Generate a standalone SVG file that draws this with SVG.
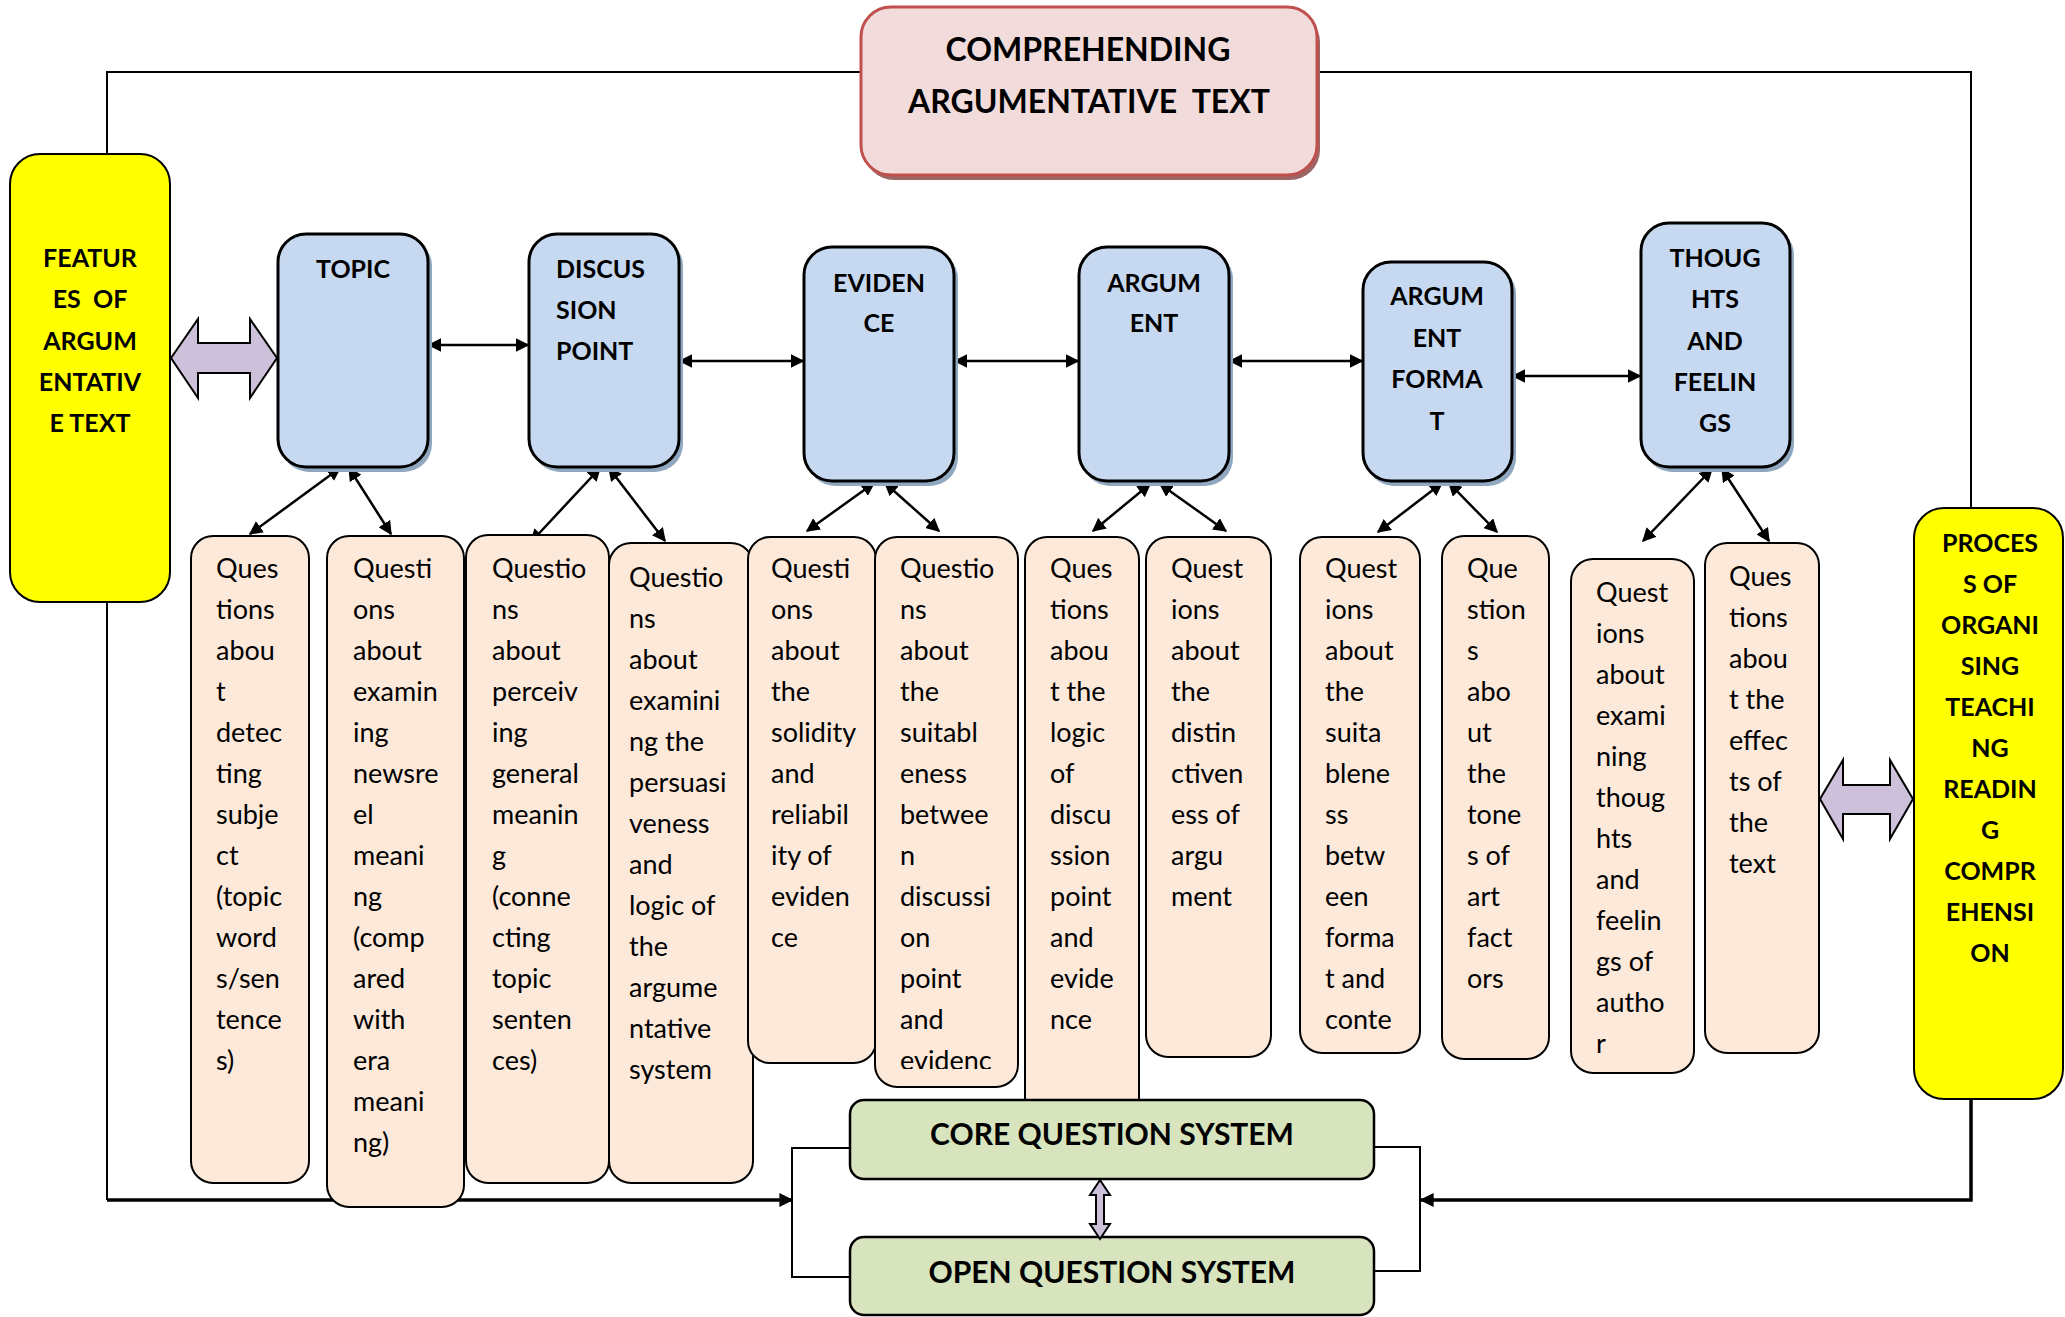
<svg xmlns="http://www.w3.org/2000/svg" width="2065" height="1317" viewBox="0 0 2065 1317">
  <defs>
    <style>
      text { font-family: Lato, "Liberation Sans", sans-serif; fill: #000; }
      .hd { font-weight: 700; font-size: 25px; }
      .ttl { font-weight: 700; font-size: 32px; }
      .sys { font-weight: 700; font-size: 30px; }
      .q { font-size: 27px; }
      .frame { fill: none; stroke: #000; stroke-width: 2; }
      .flow { fill: none; stroke: #000; stroke-width: 3.5; }
      .link { fill: none; stroke: #000; stroke-width: 2.5; }
      .blue { fill: #C6D9F1; stroke: #000; stroke-width: 3; }
      .blue-sh { fill: #8FA8BF; }
      .peach { fill: #FDE9D9; stroke: #000; stroke-width: 2; }
      .yellow { fill: #FFFF00; stroke: #000; stroke-width: 2; }
      .green { fill: #D7E4BD; stroke: #000; stroke-width: 2.5; }
      .block { fill: #CCC0DA; stroke: #000; stroke-width: 2; }
    </style>
    <marker id="ah" viewBox="0 0 10 10" refX="9" refY="5" markerWidth="5.5" markerHeight="5.5" orient="auto-start-reverse" markerUnits="strokeWidth">
      <path d="M0,0 L10,5 L0,10 z" fill="#000"/>
    </marker>
    <marker id="ahs" viewBox="0 0 10 10" refX="9" refY="5" markerWidth="4" markerHeight="4" orient="auto-start-reverse" markerUnits="strokeWidth">
      <path d="M0,0 L10,5 L0,10 z" fill="#000"/>
    </marker>
    <clipPath id="clip-q6">
      <rect x="875" y="530" width="145" height="539"/>
    </clipPath>
  </defs>

  <!-- connectors -->
  <g id="connectors">
    <!-- outer frame -->
    <polyline class="frame" points="107,154 107,72 861,72"/>
    <polyline class="frame" points="1317,72 1971,72 1971,508"/>
    <polyline class="frame" points="107,602 107,1200"/>
    <line class="flow" x1="107" y1="1200" x2="792" y2="1200" marker-end="url(#ahs)"/>
    <polyline class="frame" points="851,1148 792,1148 792,1277 851,1277"/>
    <polyline class="frame" points="1374,1147 1420,1147 1420,1271 1374,1271"/>
    <polyline class="flow" points="1971,1099 1971,1200 1421,1200" marker-end="url(#ahs)"/>

    <!-- links between topic boxes -->
    <line class="link" x1="429" y1="345" x2="528" y2="345" marker-start="url(#ah)" marker-end="url(#ah)"/>
    <line class="link" x1="680" y1="361" x2="803" y2="361" marker-start="url(#ah)" marker-end="url(#ah)"/>
    <line class="link" x1="955" y1="361" x2="1078" y2="361" marker-start="url(#ah)" marker-end="url(#ah)"/>
    <line class="link" x1="1230" y1="361" x2="1362" y2="361" marker-start="url(#ah)" marker-end="url(#ah)"/>
    <line class="link" x1="1513" y1="376" x2="1640" y2="376" marker-start="url(#ah)" marker-end="url(#ah)"/>

    <!-- links from topic boxes to question boxes -->
    <line class="link" x1="340" y1="468" x2="250" y2="534" marker-start="url(#ah)" marker-end="url(#ah)"/>
    <line class="link" x1="349" y1="468" x2="391" y2="534" marker-start="url(#ah)" marker-end="url(#ah)"/>
    <line class="link" x1="600" y1="468" x2="531" y2="542" marker-start="url(#ah)" marker-end="url(#ah)"/>
    <line class="link" x1="609" y1="468" x2="665" y2="541" marker-start="url(#ah)" marker-end="url(#ah)"/>
    <line class="link" x1="874" y1="483" x2="807" y2="531" marker-start="url(#ah)" marker-end="url(#ah)"/>
    <line class="link" x1="885" y1="483" x2="939" y2="531" marker-start="url(#ah)" marker-end="url(#ah)"/>
    <line class="link" x1="1150" y1="484" x2="1093" y2="531" marker-start="url(#ah)" marker-end="url(#ah)"/>
    <line class="link" x1="1160" y1="484" x2="1226" y2="531" marker-start="url(#ah)" marker-end="url(#ah)"/>
    <line class="link" x1="1442" y1="483" x2="1378" y2="532" marker-start="url(#ah)" marker-end="url(#ah)"/>
    <line class="link" x1="1449" y1="483" x2="1497" y2="532" marker-start="url(#ah)" marker-end="url(#ah)"/>
    <line class="link" x1="1712" y1="469" x2="1643" y2="541" marker-start="url(#ah)" marker-end="url(#ah)"/>
    <line class="link" x1="1722" y1="469" x2="1769" y2="541" marker-start="url(#ah)" marker-end="url(#ah)"/>

    <!-- wide two-way arrows -->
    <path class="block" d="M171,358 L198,319 L198,343 L250,343 L250,319 L277,358 L250,398 L250,373 L198,373 L198,398 Z"/>
    <path class="block" d="M1820,799 L1843,760 L1843,785 L1890,785 L1890,760 L1913,799 L1890,839 L1890,814 L1843,814 L1843,839 Z"/>
  </g>

  <!-- title -->
  <g id="title">
    <rect x="864" y="12" width="456" height="168" rx="30" fill="#9B6664"/>
    <rect x="861" y="7" width="456" height="168" rx="30" fill="#F2DCDB" stroke="#C0504D" stroke-width="3"/>
    <text class="ttl" x="1088" y="61" text-anchor="middle">COMPREHENDING</text>
    <text class="ttl" x="1089" y="113" text-anchor="middle" xml:space="preserve">ARGUMENTATIVE  TEXT</text>
  </g>

  <!-- side panels -->
  <g id="features">
    <rect class="yellow" x="10" y="154" width="160" height="448" rx="30"/>
    <text class="hd" text-anchor="middle" xml:space="preserve"><tspan x="90" y="267">FEATUR</tspan><tspan x="90" y="308">ES  OF</tspan><tspan x="90" y="350">ARGUM</tspan><tspan x="90" y="391">ENTATIV</tspan><tspan x="90" y="432">E TEXT</tspan></text>
  </g>
  <g id="process">
    <rect class="yellow" x="1914" y="508" width="149" height="591" rx="30"/>
    <text class="hd" text-anchor="middle"><tspan x="1990" y="552">PROCES</tspan><tspan x="1990" y="593">S OF</tspan><tspan x="1990" y="634">ORGANI</tspan><tspan x="1990" y="675">SING</tspan><tspan x="1990" y="716">TEACHI</tspan><tspan x="1990" y="757">NG</tspan><tspan x="1990" y="798">READIN</tspan><tspan x="1990" y="839">G</tspan><tspan x="1990" y="880">COMPR</tspan><tspan x="1990" y="921">EHENSI</tspan><tspan x="1990" y="962">ON</tspan></text>
  </g>

  <!-- topic boxes -->
  <g id="topic">
    <rect class="blue-sh" x="281" y="238" width="151" height="234" rx="28"/>
    <rect class="blue" x="278" y="234" width="150" height="233" rx="28"/>
    <text class="hd" x="353" y="278" text-anchor="middle">TOPIC</text>
  </g>
  <g id="discussion-point">
    <rect class="blue-sh" x="532" y="238" width="151" height="234" rx="28"/>
    <rect class="blue" x="529" y="234" width="150" height="233" rx="28"/>
    <text class="hd"><tspan x="556" y="278">DISCUS</tspan><tspan x="556" y="319">SION</tspan><tspan x="556" y="360">POINT</tspan></text>
  </g>
  <g id="evidence">
    <rect class="blue-sh" x="807" y="251" width="151" height="235" rx="28"/>
    <rect class="blue" x="804" y="247" width="150" height="234" rx="28"/>
    <text class="hd" text-anchor="middle"><tspan x="879" y="292">EVIDEN</tspan><tspan x="879" y="332">CE</tspan></text>
  </g>
  <g id="argument">
    <rect class="blue-sh" x="1082" y="251" width="151" height="235" rx="28"/>
    <rect class="blue" x="1079" y="247" width="150" height="234" rx="28"/>
    <text class="hd" text-anchor="middle"><tspan x="1154" y="292">ARGUM</tspan><tspan x="1154" y="332">ENT</tspan></text>
  </g>
  <g id="argument-format">
    <rect class="blue-sh" x="1366" y="266" width="150" height="220" rx="28"/>
    <rect class="blue" x="1363" y="262" width="149" height="219" rx="28"/>
    <text class="hd" text-anchor="middle"><tspan x="1437" y="305">ARGUM</tspan><tspan x="1437" y="347">ENT</tspan><tspan x="1437" y="388">FORMA</tspan><tspan x="1437" y="430">T</tspan></text>
  </g>
  <g id="thoughts-feelings">
    <rect class="blue-sh" x="1644" y="227" width="150" height="245" rx="28"/>
    <rect class="blue" x="1641" y="223" width="149" height="244" rx="28"/>
    <text class="hd" text-anchor="middle"><tspan x="1715" y="267">THOUG</tspan><tspan x="1715" y="308">HTS</tspan><tspan x="1715" y="350">AND</tspan><tspan x="1715" y="391">FEELIN</tspan><tspan x="1715" y="432">GS</tspan></text>
  </g>

  <!-- question boxes -->
  <g id="q1">
    <rect class="peach" x="191" y="536" width="118" height="647" rx="22"/>
    <text class="q"><tspan x="216" y="578">Ques</tspan><tspan x="216" dy="41">tions</tspan><tspan x="216" dy="41">abou</tspan><tspan x="216" dy="41">t</tspan><tspan x="216" dy="41">detec</tspan><tspan x="216" dy="41">ting</tspan><tspan x="216" dy="41">subje</tspan><tspan x="216" dy="41">ct</tspan><tspan x="216" dy="41">(topic</tspan><tspan x="216" dy="41">word</tspan><tspan x="216" dy="41">s/sen</tspan><tspan x="216" dy="41">tence</tspan><tspan x="216" dy="41">s)</tspan></text>
  </g>
  <g id="q2">
    <rect class="peach" x="327" y="536" width="137" height="671" rx="22"/>
    <text class="q"><tspan x="353" y="578">Questi</tspan><tspan x="353" dy="41">ons</tspan><tspan x="353" dy="41">about</tspan><tspan x="353" dy="41">examin</tspan><tspan x="353" dy="41">ing</tspan><tspan x="353" dy="41">newsre</tspan><tspan x="353" dy="41">el</tspan><tspan x="353" dy="41">meani</tspan><tspan x="353" dy="41">ng</tspan><tspan x="353" dy="41">(comp</tspan><tspan x="353" dy="41">ared</tspan><tspan x="353" dy="41">with</tspan><tspan x="353" dy="41">era</tspan><tspan x="353" dy="41">meani</tspan><tspan x="353" dy="41">ng)</tspan></text>
  </g>
  <g id="q3">
    <rect class="peach" x="466" y="535" width="143" height="648" rx="22"/>
    <text class="q"><tspan x="492" y="578">Questio</tspan><tspan x="492" dy="41">ns</tspan><tspan x="492" dy="41">about</tspan><tspan x="492" dy="41">perceiv</tspan><tspan x="492" dy="41">ing</tspan><tspan x="492" dy="41">general</tspan><tspan x="492" dy="41">meanin</tspan><tspan x="492" dy="41">g</tspan><tspan x="492" dy="41">(conne</tspan><tspan x="492" dy="41">cting</tspan><tspan x="492" dy="41">topic</tspan><tspan x="492" dy="41">senten</tspan><tspan x="492" dy="41">ces)</tspan></text>
  </g>
  <g id="q4">
    <rect class="peach" x="609" y="543" width="144" height="640" rx="22"/>
    <text class="q"><tspan x="629" y="587">Questio</tspan><tspan x="629" dy="41">ns</tspan><tspan x="629" dy="41">about</tspan><tspan x="629" dy="41">examini</tspan><tspan x="629" dy="41">ng the</tspan><tspan x="629" dy="41">persuasi</tspan><tspan x="629" dy="41">veness</tspan><tspan x="629" dy="41">and</tspan><tspan x="629" dy="41">logic of</tspan><tspan x="629" dy="41">the</tspan><tspan x="629" dy="41">argume</tspan><tspan x="629" dy="41">ntative</tspan><tspan x="629" dy="41">system</tspan></text>
  </g>
  <g id="q5">
    <rect class="peach" x="748" y="537" width="128" height="526" rx="22"/>
    <text class="q"><tspan x="771" y="578">Questi</tspan><tspan x="771" dy="41">ons</tspan><tspan x="771" dy="41">about</tspan><tspan x="771" dy="41">the</tspan><tspan x="771" dy="41">solidity</tspan><tspan x="771" dy="41">and</tspan><tspan x="771" dy="41">reliabil</tspan><tspan x="771" dy="41">ity of</tspan><tspan x="771" dy="41">eviden</tspan><tspan x="771" dy="41">ce</tspan></text>
  </g>
  <g id="q6">
    <rect class="peach" x="875" y="537" width="143" height="550" rx="22"/>
    <text class="q" clip-path="url(#clip-q6)"><tspan x="900" y="578">Questio</tspan><tspan x="900" dy="41">ns</tspan><tspan x="900" dy="41">about</tspan><tspan x="900" dy="41">the</tspan><tspan x="900" dy="41">suitabl</tspan><tspan x="900" dy="41">eness</tspan><tspan x="900" dy="41">betwee</tspan><tspan x="900" dy="41">n</tspan><tspan x="900" dy="41">discussi</tspan><tspan x="900" dy="41">on</tspan><tspan x="900" dy="41">point</tspan><tspan x="900" dy="41">and</tspan><tspan x="900" dy="41">evidenc</tspan></text>
  </g>
  <g id="q7">
    <rect class="peach" x="1025" y="537" width="114" height="590" rx="22"/>
    <text class="q"><tspan x="1050" y="578">Ques</tspan><tspan x="1050" dy="41">tions</tspan><tspan x="1050" dy="41">abou</tspan><tspan x="1050" dy="41">t the</tspan><tspan x="1050" dy="41">logic</tspan><tspan x="1050" dy="41">of</tspan><tspan x="1050" dy="41">discu</tspan><tspan x="1050" dy="41">ssion</tspan><tspan x="1050" dy="41">point</tspan><tspan x="1050" dy="41">and</tspan><tspan x="1050" dy="41">evide</tspan><tspan x="1050" dy="41">nce</tspan></text>
  </g>
  <g id="q8">
    <rect class="peach" x="1146" y="537" width="125" height="520" rx="22"/>
    <text class="q"><tspan x="1171" y="578">Quest</tspan><tspan x="1171" dy="41">ions</tspan><tspan x="1171" dy="41">about</tspan><tspan x="1171" dy="41">the</tspan><tspan x="1171" dy="41">distin</tspan><tspan x="1171" dy="41">ctiven</tspan><tspan x="1171" dy="41">ess of</tspan><tspan x="1171" dy="41">argu</tspan><tspan x="1171" dy="41">ment</tspan></text>
  </g>
  <g id="q9">
    <rect class="peach" x="1300" y="537" width="120" height="516" rx="22"/>
    <text class="q"><tspan x="1325" y="578">Quest</tspan><tspan x="1325" dy="41">ions</tspan><tspan x="1325" dy="41">about</tspan><tspan x="1325" dy="41">the</tspan><tspan x="1325" dy="41">suita</tspan><tspan x="1325" dy="41">blene</tspan><tspan x="1325" dy="41">ss</tspan><tspan x="1325" dy="41">betw</tspan><tspan x="1325" dy="41">een</tspan><tspan x="1325" dy="41">forma</tspan><tspan x="1325" dy="41">t and</tspan><tspan x="1325" dy="41">conte</tspan></text>
  </g>
  <g id="q10">
    <rect class="peach" x="1442" y="536" width="107" height="523" rx="22"/>
    <text class="q"><tspan x="1467" y="578">Que</tspan><tspan x="1467" dy="41">stion</tspan><tspan x="1467" dy="41">s</tspan><tspan x="1467" dy="41">abo</tspan><tspan x="1467" dy="41">ut</tspan><tspan x="1467" dy="41">the</tspan><tspan x="1467" dy="41">tone</tspan><tspan x="1467" dy="41">s of</tspan><tspan x="1467" dy="41">art</tspan><tspan x="1467" dy="41">fact</tspan><tspan x="1467" dy="41">ors</tspan></text>
  </g>
  <g id="q11">
    <rect class="peach" x="1571" y="559" width="123" height="514" rx="22"/>
    <text class="q"><tspan x="1596" y="602">Quest</tspan><tspan x="1596" dy="41">ions</tspan><tspan x="1596" dy="41">about</tspan><tspan x="1596" dy="41">exami</tspan><tspan x="1596" dy="41">ning</tspan><tspan x="1596" dy="41">thoug</tspan><tspan x="1596" dy="41">hts</tspan><tspan x="1596" dy="41">and</tspan><tspan x="1596" dy="41">feelin</tspan><tspan x="1596" dy="41">gs of</tspan><tspan x="1596" dy="41">autho</tspan><tspan x="1596" dy="41">r</tspan></text>
  </g>
  <g id="q12">
    <rect class="peach" x="1705" y="543" width="114" height="510" rx="22"/>
    <text class="q"><tspan x="1729" y="586">Ques</tspan><tspan x="1729" dy="41">tions</tspan><tspan x="1729" dy="41">abou</tspan><tspan x="1729" dy="41">t the</tspan><tspan x="1729" dy="41">effec</tspan><tspan x="1729" dy="41">ts of</tspan><tspan x="1729" dy="41">the</tspan><tspan x="1729" dy="41">text</tspan></text>
  </g>

  <!-- question systems -->
  <g id="core-question-system">
    <rect class="green" x="850" y="1100" width="524" height="79" rx="14"/>
    <text class="sys" x="1112" y="1145" text-anchor="middle">CORE QUESTION SYSTEM</text>
  </g>
  <g id="open-question-system">
    <rect class="green" x="850" y="1237" width="524" height="78" rx="14"/>
    <text class="sys" x="1112" y="1283" text-anchor="middle">OPEN QUESTION SYSTEM</text>
  </g>
  <g id="system-link">
    <path class="block" stroke-width="1.5" d="M1100,1180 L1110,1195 L1104,1195 L1104,1224 L1110,1224 L1100,1239 L1090,1224 L1096,1224 L1096,1195 L1090,1195 Z"/>
  </g>
</svg>
